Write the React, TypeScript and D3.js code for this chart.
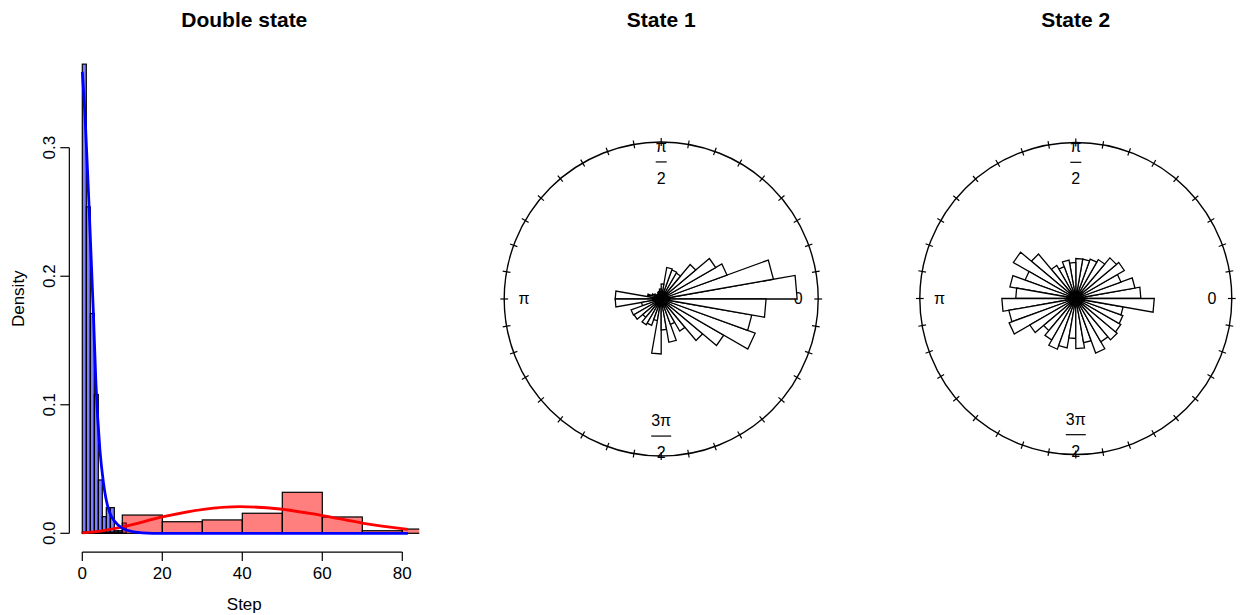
import React from "react";
import * as d3 from "d3";

// histogram of steps, state 1 (bin width 1) and state 2 (bin width 10)
const blueBreaks = [0, 1, 2, 3, 4, 5, 6, 7, 8, 9, 10, 11];
const blueDensity = [0.365, 0.254, 0.171, 0.108, 0.0415, 0.013, 0.02, 0.02, 0.002, 0.002, 0.008];
const redBreaks = [0, 10, 20, 30, 40, 50, 60, 70, 80, 90];
const redDensity = [0.001, 0.0142, 0.009, 0.0104, 0.0156, 0.0319, 0.0127, 0.002, 0.0033];

// fitted densities
const blueCurveX = [0, 0.7, 1.8, 2.8, 3.4, 4.4, 5.3, 7.3, 11, 15, 20, 40, 81.4];
const blueCurveY = [0.359, 0.324, 0.246, 0.169, 0.117, 0.065, 0.039, 0.013, 0.0026, 0.0004, 0, 0, 0];
const redCurveX = [0, 5, 10.3, 20.3, 30.3, 39.4, 49.4, 59.4, 70.3, 81.4];
const redCurveY = [0.0003, 0.0019, 0.0051, 0.0129, 0.0187, 0.0207, 0.0189, 0.0142, 0.0078, 0.0031];

const stepTicks = [0, 20, 40, 60, 80];
const densityTicks = [0, 0.1, 0.2, 0.3];

// rose diagrams: 36 bins of 10 degrees, petal length as share of the circle radius
const state1Radius = [
  0.866, 0.726, 0.446, 0.401, 0.287, 0.191, 0.197, 0.204, 0.096, 0.064, 0.051, 0.045,
  0.038, 0.038, 0.051, 0.064, 0.089, 0.293, 0.293, 0.127, 0.204, 0.2, 0.153, 0.19,
  0.178, 0.14, 0.35, 0.197, 0.28, 0.172, 0.236, 0.345, 0.46, 0.637, 0.586, 0.668,
];
const state2Radius = [
  0.417, 0.385, 0.308, 0.359, 0.34, 0.288, 0.269, 0.256, 0.256, 0.231, 0.25, 0.218,
  0.244, 0.372, 0.462, 0.346, 0.429, 0.385, 0.474, 0.436, 0.455, 0.34, 0.269, 0.308,
  0.346, 0.321, 0.256, 0.321, 0.288, 0.372, 0.321, 0.346, 0.333, 0.321, 0.308, 0.503,
];
const roseLabels = [
  { angle: 0, num: "0", den: "" },
  { angle: 90, num: "π", den: "2" },
  { angle: 180, num: "π", den: "" },
  { angle: 270, num: "3π", den: "2" },
];

const font = "'Liberation Sans', Arial, Helvetica, sans-serif";

function Histogram() {
  const x = d3.scaleLinear().domain([0, 80]).range([82.3, 402.3]);
  const y = d3.scaleLinear().domain([0, 0.3]).range([533.3, 147.7]);
  const left = x(-3.24), right = x(84.24);
  const top = y(0.3796), bottom = y(-0.0146);

  const line = d3
    .line<[number, number]>()
    .x((d) => x(d[0]))
    .y((d) => y(d[1]))
    .curve(d3.curveMonotoneX);

  const bluePts = blueCurveX.map((v, i) => [v, blueCurveY[i]] as [number, number]);
  const redPts = redCurveX.map((v, i) => [v, redCurveY[i]] as [number, number]);

  return (
    <g fontFamily={font}>
      <defs>
        <clipPath id="plotArea">
          <rect x={left} y={top} width={right - left} height={bottom - top} />
        </clipPath>
      </defs>
      <text x={(left + right) / 2} y={27} textAnchor="middle" fontSize={21} fontWeight="bold">
        Double state
      </text>
      <g clipPath="url(#plotArea)">
        {blueDensity.map((d, i) => (
          <rect
            key={"b" + i}
            x={x(blueBreaks[i])}
            y={y(d)}
            width={x(blueBreaks[i + 1]) - x(blueBreaks[i])}
            height={y(0) - y(d)}
            fill="rgba(0,0,255,0.5)"
            stroke="#000"
            strokeWidth={1.2}
          />
        ))}
        {redDensity.map((d, i) => (
          <rect
            key={"r" + i}
            x={x(redBreaks[i])}
            y={y(d)}
            width={x(redBreaks[i + 1]) - x(redBreaks[i])}
            height={y(0) - y(d)}
            fill="rgba(255,0,0,0.5)"
            stroke="#000"
            strokeWidth={1.2}
          />
        ))}
        <path d={line(redPts) || ""} fill="none" stroke="#ff0000" strokeWidth={2.8} />
        <path d={line(bluePts) || ""} fill="none" stroke="#0000ff" strokeWidth={2.8} />
      </g>

      {/* x axis */}
      <line x1={x(0)} x2={x(80)} y1={bottom} y2={bottom} stroke="#000" strokeWidth={1.2} />
      {stepTicks.map((t) => (
        <g key={t}>
          <line x1={x(t)} x2={x(t)} y1={bottom} y2={bottom + 9} stroke="#000" strokeWidth={1.2} />
          <text x={x(t)} y={579} textAnchor="middle" fontSize={17}>
            {t}
          </text>
        </g>
      ))}
      <text x={(left + right) / 2} y={610} textAnchor="middle" fontSize={17}>
        Step
      </text>

      {/* y axis */}
      <line x1={left} x2={left} y1={y(0)} y2={y(0.3)} stroke="#000" strokeWidth={1.2} />
      {densityTicks.map((t) => (
        <g key={t}>
          <line x1={left} x2={left - 9} y1={y(t)} y2={y(t)} stroke="#000" strokeWidth={1.2} />
          <text
            transform={`translate(${55},${y(t)}) rotate(-90)`}
            textAnchor="middle"
            fontSize={17}
          >
            {t.toFixed(1)}
          </text>
        </g>
      ))}
      <text
        transform={`translate(${24},${(top + bottom) / 2}) rotate(-90)`}
        textAnchor="middle"
        fontSize={17}
      >
        Density
      </text>
    </g>
  );
}

function Rose({ cx, cy, R, radii, title }: { cx: number; cy: number; R: number; radii: number[]; title: string }) {
  const r = d3.scaleLinear().domain([0, 1]).range([0, R]);
  const bins = radii.length;
  const step = (2 * Math.PI) / bins;
  const pt = (rad: number, a: number): [number, number] => [cx + rad * Math.cos(a), cy - rad * Math.sin(a)];
  const ticks = d3.range(bins);

  return (
    <g fontFamily={font}>
      <text x={cx} y={27} textAnchor="middle" fontSize={21} fontWeight="bold">
        {title}
      </text>
      <circle cx={cx} cy={cy} r={R} fill="none" stroke="#000" strokeWidth={1.4} />
      {ticks.map((i) => {
        const a = i * step;
        const p0 = pt(R * 0.975, a);
        const p1 = pt(R * 1.025, a);
        return <line key={i} x1={p0[0]} y1={p0[1]} x2={p1[0]} y2={p1[1]} stroke="#000" strokeWidth={1.2} />;
      })}
      {roseLabels.map((l) => {
        const a = (l.angle * Math.PI) / 180;
        const [lx, ly] = pt(R * 0.873, a);
        if (!l.den) {
          return (
            <text key={l.angle} x={lx} y={ly + 5} textAnchor="middle" fontSize={16}>
              {l.num}
            </text>
          );
        }
        const w = l.num.length * 9 + 2;
        return (
          <g key={l.angle}>
            <text x={lx} y={ly - 10} textAnchor="middle" fontSize={16}>
              {l.num}
            </text>
            <line x1={lx - w / 2} x2={lx + w / 2} y1={ly} y2={ly} stroke="#000" strokeWidth={1.2} />
            <text x={lx} y={ly + 22} textAnchor="middle" fontSize={16}>
              {l.den}
            </text>
          </g>
        );
      })}
      {radii.map((v, i) => {
        const a0 = i * step;
        const a1 = (i + 1) * step;
        const p0 = pt(r(v), a0);
        const p1 = pt(r(v), a1);
        const d = `M${cx},${cy}L${p0[0]},${p0[1]}L${p1[0]},${p1[1]}Z`;
        return <path key={i} d={d} fill="#fff" stroke="#000" strokeWidth={1.3} strokeLinejoin="miter" />;
      })}
    </g>
  );
}

export default function App() {
  return (
    <svg
      width={1243}
      height={615}
      style={{ position: "absolute", left: 0, top: 0, background: "#fff" }}
    >
      <rect width={1243} height={615} fill="#fff" />
      <Histogram />
      <Rose cx={661.2} cy={299} R={157} radii={state1Radius} title="State 1" />
      <Rose cx={1075.8} cy={298.5} R={156} radii={state2Radius} title="State 2" />
    </svg>
  );
}
